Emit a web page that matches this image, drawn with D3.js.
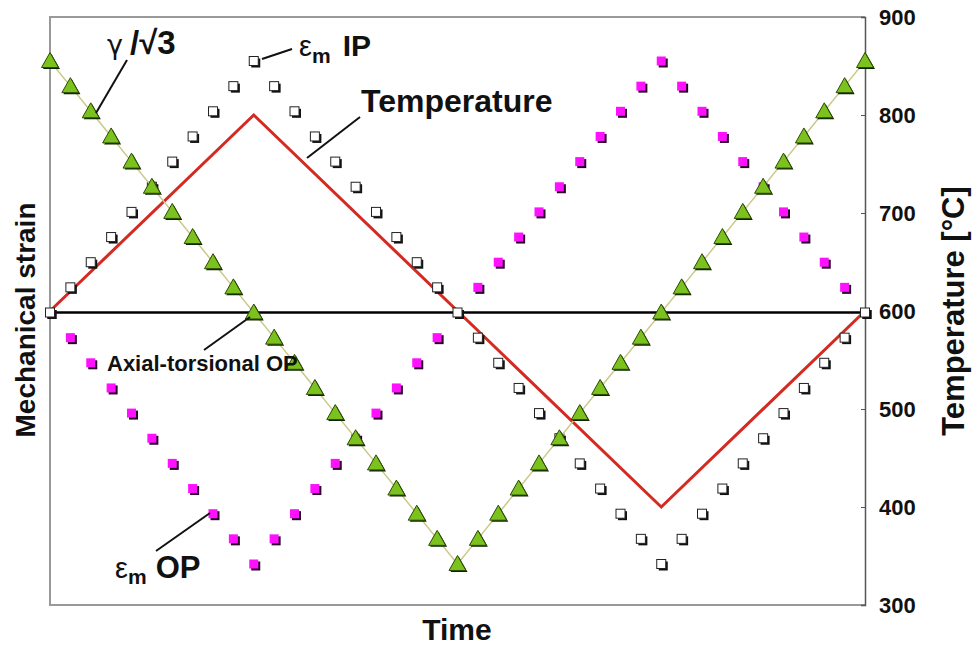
<!DOCTYPE html>
<html>
<head>
<meta charset="utf-8">
<script src="https://cdn.jsdelivr.net/npm/d3@7"></script>
<style>
  body { margin: 0; background: #fff; }
  text { font-family: "Liberation Sans", Arial, sans-serif; }
</style>
</head>
<body>
<div id="chart"></div>
<script>
// time steps (arbitrary units, 0..40)
const timeSteps = [0,1,2,3,4,5,6,7,8,9,10,11,12,13,14,15,16,17,18,19,20,
                   21,22,23,24,25,26,27,28,29,30,31,32,33,34,35,36,37,38,39,40];

// normalised mechanical strain, in-phase
const strainIP = [0,0.1,0.2,0.3,0.4,0.5,0.6,0.7,0.8,0.9,1.0,
                  0.9,0.8,0.7,0.6,0.5,0.4,0.3,0.2,0.1,0,
                  -0.1,-0.2,-0.3,-0.4,-0.5,-0.6,-0.7,-0.8,-0.9,-1.0,
                  -0.9,-0.8,-0.7,-0.6,-0.5,-0.4,-0.3,-0.2,-0.1,0];

// normalised mechanical strain, out-of-phase
const strainOP = [0,-0.1,-0.2,-0.3,-0.4,-0.5,-0.6,-0.7,-0.8,-0.9,-1.0,
                  -0.9,-0.8,-0.7,-0.6,-0.5,-0.4,-0.3,-0.2,-0.1,0,
                  0.1,0.2,0.3,0.4,0.5,0.6,0.7,0.8,0.9,1.0,
                  0.9,0.8,0.7,0.6,0.5,0.4,0.3,0.2,0.1,0];

// shear strain gamma / sqrt(3), axial-torsional OP
const gammaRoot3 = [1.0,0.9,0.8,0.7,0.6,0.5,0.4,0.3,0.2,0.1,0,
                    -0.1,-0.2,-0.3,-0.4,-0.5,-0.6,-0.7,-0.8,-0.9,-1.0,
                    -0.9,-0.8,-0.7,-0.6,-0.5,-0.4,-0.3,-0.2,-0.1,0,
                    0.1,0.2,0.3,0.4,0.5,0.6,0.7,0.8,0.9,1.0];

// temperature cycle
const tempTime = [0, 10, 30, 40];
const tempValues = [600, 800, 400, 600];
const tempTicks = [300, 400, 500, 600, 700, 800, 900];

const width = 977, height = 647;
const plotLeft = 50, plotRight = 865, plotTop = 17, plotBottom = 605;

const svg = d3.select("#chart").append("svg")
    .attr("width", width)
    .attr("height", height);

const x = d3.scaleLinear().domain([0, 40]).range([plotLeft, plotRight]);
const yStrain = d3.scaleLinear().domain([-1, 1]).range([564, 61]);
const yTemp = d3.scaleLinear().domain([300, 900]).range([plotBottom, plotTop]);

// frame
svg.append("path")
    .attr("d", `M${plotRight},${plotTop}H${plotLeft}V${plotBottom}H${plotRight}`)
    .attr("fill", "none")
    .attr("stroke", "#999")
    .attr("stroke-width", 2);

// right temperature axis
const axis = svg.append("g")
    .attr("transform", "translate(" + plotRight + ",0)")
    .call(d3.axisRight(yTemp).tickValues(tempTicks).tickSize(-4).tickPadding(14));
axis.select(".domain").attr("stroke", "#555").attr("stroke-width", 1.5);
axis.selectAll(".tick line").attr("stroke", "#555");
axis.selectAll(".tick text")
    .attr("font-size", 22)
    .attr("font-weight", "bold")
    .attr("font-family", "Liberation Sans, Arial, sans-serif")
    .attr("fill", "#111");

// zero strain line
svg.append("line")
    .attr("x1", plotLeft).attr("x2", plotRight)
    .attr("y1", yStrain(0)).attr("y2", yStrain(0))
    .attr("stroke", "#000")
    .attr("stroke-width", 2.5);

// temperature line
const tempData = tempTime.map((t, i) => ({t: t, v: tempValues[i]}));
svg.append("path")
    .datum(tempData)
    .attr("fill", "none")
    .attr("stroke", "#d42a22")
    .attr("stroke-width", 3)
    .attr("d", d3.line().x(d => x(d.t)).y(d => yTemp(d.v)));

// OP strain, magenta squares
const sq = 9;
const opG = svg.append("g");
opG.selectAll(".sh").data(timeSteps).enter().append("rect")
    .attr("x", (d, i) => x(d) - sq / 2 + 2)
    .attr("y", (d, i) => yStrain(strainOP[i]) - sq / 2 + 2)
    .attr("width", sq).attr("height", sq)
    .attr("fill", "#2a0028");
opG.selectAll(".pt").data(timeSteps).enter().append("rect")
    .attr("x", (d, i) => x(d) - sq / 2)
    .attr("y", (d, i) => yStrain(strainOP[i]) - sq / 2)
    .attr("width", sq).attr("height", sq)
    .attr("fill", "#ff10ff");

// IP strain, open squares
const ipG = svg.append("g");
ipG.selectAll(".sh").data(timeSteps).enter().append("rect")
    .attr("x", (d, i) => x(d) - sq / 2 + 2)
    .attr("y", (d, i) => yStrain(strainIP[i]) - sq / 2 + 2)
    .attr("width", sq).attr("height", sq)
    .attr("fill", "#111");
ipG.selectAll(".pt").data(timeSteps).enter().append("rect")
    .attr("x", (d, i) => x(d) - sq / 2)
    .attr("y", (d, i) => yStrain(strainIP[i]) - sq / 2)
    .attr("width", sq).attr("height", sq)
    .attr("fill", "#fff")
    .attr("stroke", "#222")
    .attr("stroke-width", 1);

// gamma / sqrt3 line with triangles
svg.append("path")
    .datum(timeSteps)
    .attr("fill", "none")
    .attr("stroke", "#c9c98a")
    .attr("stroke-width", 1.5)
    .attr("d", d3.line().x(d => x(d)).y((d, i) => yStrain(gammaRoot3[i])));

const tri = "M0,-8.5L8.5,6.5L-8.5,6.5Z";
const gG = svg.append("g");
gG.selectAll(".sh").data(timeSteps).enter().append("path")
    .attr("d", tri)
    .attr("transform", (d, i) => "translate(" + (x(d) + 1.5) + "," + (yStrain(gammaRoot3[i]) + 1.5) + ")")
    .attr("fill", "#112200");
gG.selectAll(".pt").data(timeSteps).enter().append("path")
    .attr("d", tri)
    .attr("transform", (d, i) => "translate(" + x(d) + "," + yStrain(gammaRoot3[i]) + ")")
    .attr("fill", "#7cc21e")
    .attr("stroke", "#2c4a00")
    .attr("stroke-width", 1);

// annotations: leader lines
const leaders = [
    [127, 60, 96, 113],
    [262, 59, 292, 49],
    [360, 117, 307, 158],
    [204, 350, 250, 317],
    [156, 551, 210, 513]
];
svg.selectAll(".leader").data(leaders).enter().append("line")
    .attr("x1", d => d[0]).attr("y1", d => d[1])
    .attr("x2", d => d[2]).attr("y2", d => d[3])
    .attr("stroke", "#111")
    .attr("stroke-width", 2);

// gamma / sqrt3 label
const gl = svg.append("text").attr("x", 107).attr("y", 54).attr("font-size", 33).attr("fill", "#111");
gl.append("tspan").attr("font-family", "DejaVu Sans, sans-serif").attr("font-size", 27).text("γ");
gl.append("tspan").attr("font-weight", "bold").attr("dx", 7).text("/√3");

// eps_m IP
const ipl = svg.append("text").attr("x", 299).attr("y", 56).attr("fill", "#111");
ipl.append("tspan").attr("font-size", 29).text("ε");
ipl.append("tspan").attr("font-size", 21).attr("font-weight", "bold").attr("dy", 7).text("m");
ipl.append("tspan").attr("font-size", 30).attr("font-weight", "bold").attr("dx", 12).attr("dy", -7).text("IP");

// eps_m OP
const opl = svg.append("text").attr("x", 115).attr("y", 578).attr("fill", "#111");
opl.append("tspan").attr("font-size", 29).text("ε");
opl.append("tspan").attr("font-size", 21).attr("font-weight", "bold").attr("dy", 6).text("m");
opl.append("tspan").attr("font-size", 31).attr("font-weight", "bold").attr("dx", 9).attr("dy", -6).text("OP");

svg.append("text")
    .attr("x", 361).attr("y", 112)
    .attr("font-size", 32).attr("font-weight", "bold").attr("fill", "#111")
    .text("Temperature");

svg.append("text")
    .attr("x", 107).attr("y", 371)
    .attr("font-size", 22).attr("font-weight", "bold").attr("fill", "#111")
    .text("Axial-torsional OP");

// axis titles
svg.append("text")
    .attr("transform", "translate(35,320) rotate(-90)")
    .attr("text-anchor", "middle")
    .attr("font-size", 28).attr("font-weight", "bold").attr("fill", "#111")
    .text("Mechanical strain");

svg.append("text")
    .attr("transform", "translate(964,311) rotate(-90)")
    .attr("text-anchor", "middle")
    .attr("font-size", 31).attr("font-weight", "bold").attr("fill", "#111")
    .text("Temperature [°C]");

svg.append("text")
    .attr("x", 457).attr("y", 640)
    .attr("text-anchor", "middle")
    .attr("font-size", 30).attr("font-weight", "bold").attr("fill", "#111")
    .text("Time");
</script>
</body>
</html>
